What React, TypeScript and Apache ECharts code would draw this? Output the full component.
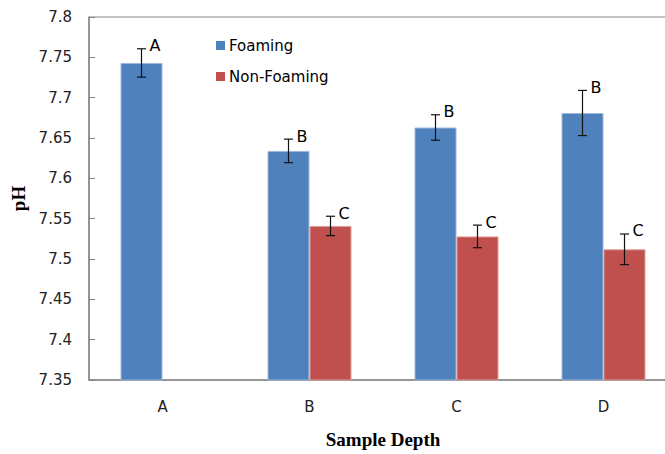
import React, { useEffect, useRef } from "react";
import * as echarts from "echarts";

const categories = ["A", "B", "C", "D"];
const foaming = [7.743, 7.634, 7.663, 7.681];
const foamingErr = [0.0176, 0.0146, 0.0158, 0.028];
const foamingLetters = ["A", "B", "B", "B"];
const nonFoaming: (number | null)[] = [null, 7.541, 7.528, 7.512];
const nonFoamingErr: (number | null)[] = [null, 0.012, 0.014, 0.019];
const nonFoamingLetters = ["", "C", "C", "C"];

const BLUE = "#4F81BD";
const RED = "#C0504D";
const AXIS = "#868686";
const BAR_W = 42;
const SANS = "'DejaVu Sans', Verdana, sans-serif";
const SERIF = "'Liberation Serif', 'Times New Roman', serif";

function errSeries(values: (number | null)[], errs: (number | null)[], letters: string[], offset: number) {
  const data = values
    .map((v, i) => (v == null ? null : [i, v, errs[i] as number, i]))
    .filter((d) => d !== null);
  return {
    type: "custom",
    z: 5,
    silent: true,
    data,
    encode: { x: 0, y: 1 },
    renderItem: (params: any, api: any) => {
      const ci = api.value(0);
      const v = api.value(1);
      const e = api.value(2);
      const idx = api.value(3);
      const c = api.coord([ci, v]);
      const x = c[0] + offset;
      const top = api.coord([ci, v + e])[1];
      const bot = api.coord([ci, v - e])[1];
      const st = { stroke: "#111", lineWidth: 1.2 };
      return {
        type: "group",
        children: [
          { type: "line", shape: { x1: x, y1: top, x2: x, y2: bot }, style: st },
          { type: "line", shape: { x1: x - 4.5, y1: top, x2: x + 4.5, y2: top }, style: st },
          { type: "line", shape: { x1: x - 4.5, y1: bot, x2: x + 4.5, y2: bot }, style: st },
          {
            type: "text",
            x: x + 8,
            y: top - 3,
            style: {
              text: letters[idx],
              fontFamily: SANS,
              fontSize: 16,
              fill: "#000",
              align: "left",
              verticalAlign: "middle",
            },
          },
        ],
      };
    },
  };
}

export default function App() {
  const ref = useRef<HTMLDivElement>(null);
  useEffect(() => {
    if (!ref.current) return;
    const chart = echarts.init(ref.current, undefined, { renderer: "svg" });
    chart.setOption({
      animation: false,
      backgroundColor: "#fff",
      textStyle: { fontFamily: SANS },
      legend: {
        orient: "vertical",
        left: 211,
        top: 33,
        itemWidth: 9,
        itemHeight: 9,
        itemGap: 16,
        icon: "rect",
        itemStyle: { borderWidth: 0 },
        textStyle: { fontSize: 15, color: "#000", fontFamily: SANS, padding: [0, 0, 0, -1] },
        data: ["Foaming", "Non-Foaming"],
      },
      grid: {
        left: 89,
        top: 17,
        width: 588,
        bottom: 67.5,
        show: true,
        borderColor: AXIS,
        borderWidth: 1,
        containLabel: false,
      },
      xAxis: {
        type: "category",
        data: categories,
        name: "Sample Depth",
        nameLocation: "middle",
        nameGap: 50,
        nameTextStyle: {
          fontFamily: SERIF,
          fontWeight: "bold",
          fontSize: 19,
          color: "#000",
        },
        axisLine: { lineStyle: { color: AXIS, width: 1.5 } },
        axisTick: { inside: true, length: 6, lineStyle: { color: AXIS } },
        axisLabel: { margin: 19, fontSize: 15, color: "#222", fontFamily: SANS },
      },
      yAxis: {
        type: "value",
        min: 7.35,
        max: 7.8,
        interval: 0.05,
        name: "pH",
        nameLocation: "middle",
        nameGap: 60,
        nameTextStyle: {
          fontFamily: SERIF,
          fontWeight: "bold",
          fontSize: 19,
          color: "#000",
        },
        splitLine: { show: false },
        axisLine: { show: true, lineStyle: { color: AXIS, width: 1.5 } },
        axisTick: { show: true, inside: true, length: 6, lineStyle: { color: AXIS } },
        axisLabel: {
          margin: 17,
          fontSize: 15,
          color: "#222",
          fontFamily: SANS,
          formatter: (v: number) => String(Number(v.toFixed(2))),
        },
      },
      series: [
        {
          name: "Foaming",
          type: "bar",
          data: foaming,
          barWidth: BAR_W,
          barGap: "0%",
          itemStyle: { color: BLUE, borderColor: "#9db8dc", borderWidth: 1 },
        },
        {
          name: "Non-Foaming",
          type: "bar",
          data: nonFoaming,
          barWidth: BAR_W,
          barGap: "0%",
          itemStyle: { color: RED, borderColor: "#dc9e9c", borderWidth: 1 },
        },
        errSeries(foaming, foamingErr, foamingLetters, -BAR_W / 2),
        errSeries(nonFoaming, nonFoamingErr, nonFoamingLetters, BAR_W / 2),
      ],
    });
    return () => chart.dispose();
  }, []);
  return (
    <div style={{ position: "fixed", left: 0, top: 0, width: 665, height: 454, overflow: "hidden", background: "#fff" }}>
      <div ref={ref} style={{ position: "absolute", left: 0, top: 0, width: 700, height: 454 }} />
    </div>
  );
}
